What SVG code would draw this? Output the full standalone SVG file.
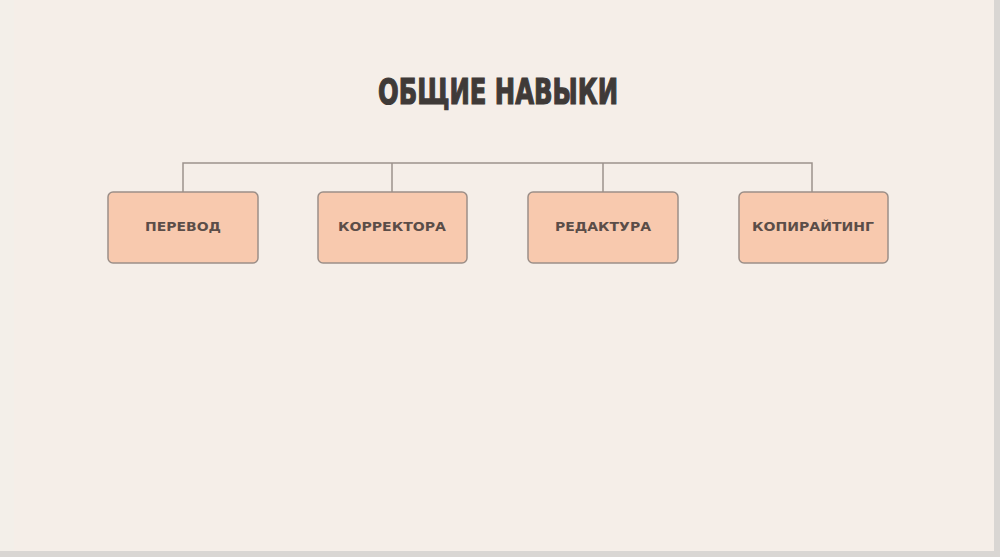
<svg xmlns="http://www.w3.org/2000/svg" width="1000" height="557" viewBox="0 0 1000 557">
<style>
.node rect{fill:#f8c9ae;stroke:#9c8f88;stroke-width:1.5}
.node text{font-family:"DejaVu Sans","Liberation Sans",sans-serif;font-weight:bold;font-size:11.5px;fill:#5b4d48;text-anchor:middle;dominant-baseline:central}
.conn{fill:none;stroke:#9c928c;stroke-width:1.5}
.title{font-family:"DejaVu Sans Condensed","DejaVu Sans",sans-serif;font-weight:bold;font-size:36px;fill:#3f3a38;stroke:#3f3a38;stroke-width:1.2;text-anchor:middle}
</style>
<rect x="0" y="0" width="1000" height="557" fill="#f5eee8"/>
<rect x="0" y="0" width="14" height="557" fill="#f3efe9"/>
<rect x="994" y="0" width="6" height="557" fill="#d9d6d3"/>
<rect x="0" y="551" width="1000" height="6" fill="#d9d6d3"/>
<text class="title" x="498" y="104" textLength="240" lengthAdjust="spacingAndGlyphs">ОБЩИЕ НАВЫКИ</text>
<g id="connectors">
<path class="conn" d="M183 192 V163 H812 V192 M392 163 V192 M603 163 V192"/>
</g>
<g id="node-perevod" class="node"><rect x="108" y="192" width="150" height="71" rx="5"/><text x="183" y="227" textLength="76" lengthAdjust="spacingAndGlyphs">ПЕРЕВОД</text></g>
<g id="node-korrektora" class="node"><rect x="318" y="192" width="149" height="71" rx="5"/><text x="392" y="227" textLength="108" lengthAdjust="spacingAndGlyphs">КОРРЕКТОРА</text></g>
<g id="node-redaktura" class="node"><rect x="528" y="192" width="150" height="71" rx="5"/><text x="603" y="227" textLength="96" lengthAdjust="spacingAndGlyphs">РЕДАКТУРА</text></g>
<g id="node-kopirayting" class="node"><rect x="739" y="192" width="149" height="71" rx="5"/><text x="813" y="227" textLength="122" lengthAdjust="spacingAndGlyphs">КОПИРАЙТИНГ</text></g>
</svg>
